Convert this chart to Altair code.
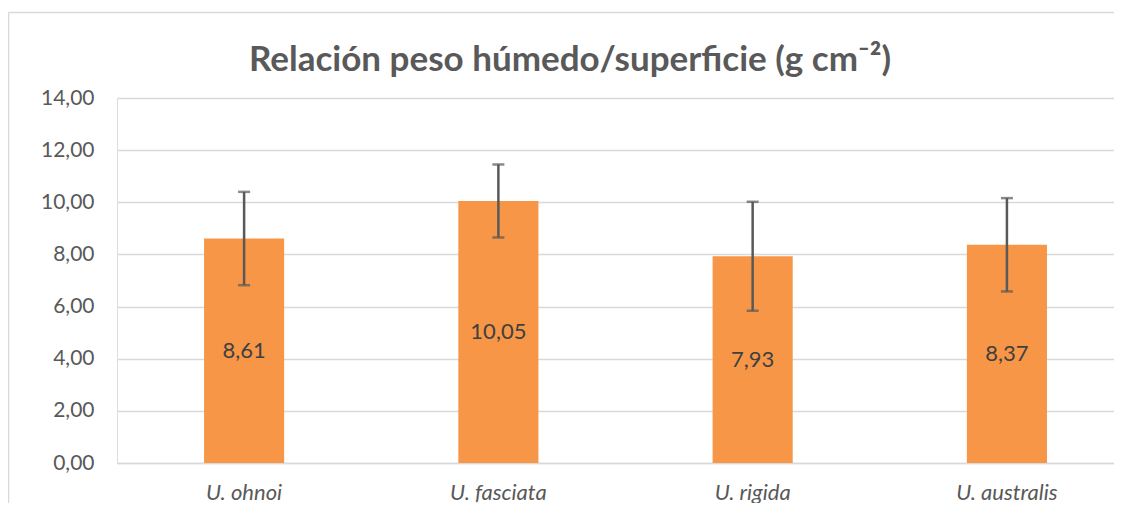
import altair as alt
import pandas as pd

# Data
species = ["U. ohnoi", "U. fasciata", "U. rigida", "U. australis"]
means = [8.61, 10.05, 7.93, 8.37]
errors = [1.79, 1.40, 2.09, 1.79]
y_ticks = [0, 2, 4, 6, 8, 10, 12, 14]
title_text = "Relación peso húmedo/superficie (g cm⁻²)"

df = pd.DataFrame({"species": species, "mean": means, "err": errors})

FONT = "Lato"
GRID = "#D9D9D9"
TEXT = "#595959"

W, H = 997, 365

base = alt.Chart(df).transform_calculate(
    lo="datum.mean - datum.err",
    hi="datum.mean + datum.err",
    half="datum.mean / 2",
    lbl="replace(format(datum.mean, '.2f'), '.', ',')",
)

x_enc = alt.X(
    "species:N",
    sort=species,
    title=None,
    scale=alt.Scale(paddingInner=0.685, paddingOuter=0.303, align=0.565),
    axis=alt.Axis(
        labelAngle=0,
        labelFont=FONT,
        labelFontSize=22,
        labelFontStyle="italic",
        labelColor=TEXT,
        labelPadding=19,
        ticks=False,
        domainColor=GRID,
        domainWidth=1.5,
        grid=False,
    ),
)

y_scale = alt.Scale(domain=[0, 14], nice=False)

bars = base.mark_bar(color="#F79646").encode(
    x=x_enc,
    y=alt.Y(
        "mean:Q",
        title=None,
        scale=y_scale,
        axis=alt.Axis(
            values=y_ticks,
            labelExpr="replace(format(datum.value, '.2f'), '.', ',')",
            labelFont=FONT,
            labelFontSize=21,
            labelColor=TEXT,
            labelPadding=23,
            ticks=False,
            domain=False,
            gridColor=GRID,
            gridWidth=1.5,
        ),
    ),
)

err_rule = base.mark_rule(color="#595959", strokeWidth=2.5).encode(
    x=alt.X("species:N", sort=species),
    y=alt.Y("lo:Q", scale=y_scale),
    y2="hi:Q",
)

cap_hi = base.mark_tick(color="#595959", size=12, thickness=2.5).encode(
    x=alt.X("species:N", sort=species),
    y=alt.Y("hi:Q", scale=y_scale),
)
cap_lo = base.mark_tick(color="#595959", size=12, thickness=2.5).encode(
    x=alt.X("species:N", sort=species),
    y=alt.Y("lo:Q", scale=y_scale),
)

labels = base.mark_text(font=FONT, fontSize=22, color="#404040", baseline="middle").encode(
    x=alt.X("species:N", sort=species),
    y=alt.Y("half:Q", scale=y_scale),
    text="lbl:N",
)

deco = alt.Chart(pd.DataFrame({"t": [title_text]}))

title = deco.mark_text(
    font=FONT, fontSize=35, fontWeight="bold", color=TEXT, align="center", baseline="alphabetic"
).encode(x=alt.value(453), y=alt.value(-27), text="t:N")

border_left = deco.mark_rule(color=GRID, strokeWidth=1.5).encode(
    x=alt.value(-108.5), y=alt.value(-85.5), y2=alt.value(420)
)
border_top = deco.mark_rule(color=GRID, strokeWidth=1.5).encode(
    x=alt.value(-108.5), x2=alt.value(W + 10), y=alt.value(-85.5)
)

chart = (
    alt.layer(border_left, border_top, bars, err_rule, cap_hi, cap_lo, labels, title)
    .properties(
        width=W,
        height=H,
        padding={"left": 109, "top": 90, "right": 0, "bottom": 40},
        autosize=alt.AutoSizeParams(type="none"),
    )
    .configure_view(stroke=None)
    .configure(background="white")
)

chart.save("out.html", embed_options={"renderer": "svg", "actions": False})
